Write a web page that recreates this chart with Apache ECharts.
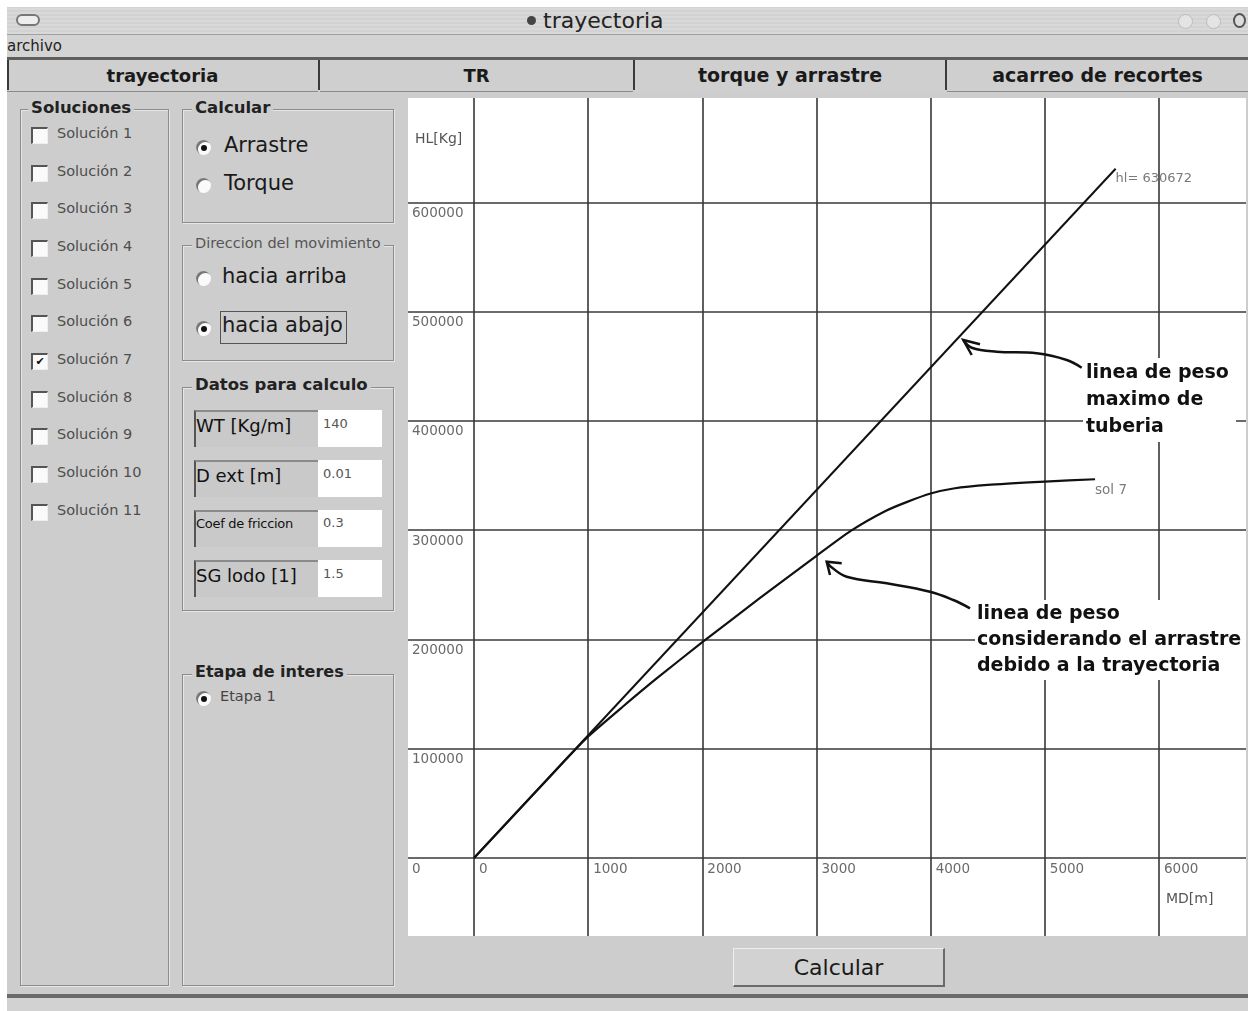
<!DOCTYPE html>
<html><head><meta charset="utf-8">
<script src="https://cdn.jsdelivr.net/npm/echarts@6/dist/echarts.min.js"></script>
<style>
html,body{margin:0;padding:0;}
body{width:1248px;height:1011px;position:relative;background:#fff;font-family:"DejaVu Sans",Arial,sans-serif;overflow:hidden;color:#222;}
.a{position:absolute;white-space:nowrap;}
#titlebar{left:7px;top:7px;width:1241px;height:27px;background:repeating-linear-gradient(0deg,#d9d9d9 0px,#d9d9d9 2px,#d2d2d2 2px,#d2d2d2 4px);border-bottom:1px solid #a0a0a0;}
#menubar{left:7px;top:35px;width:1241px;height:22px;background:#d3d3d3;}
#menuline{left:7px;top:57px;width:1241px;height:3px;background:#5e5e5e;}
#tabs{left:7px;top:60px;width:1241px;height:33px;background:#cfcfcf;}
.tab{position:absolute;top:60px;height:31px;border-bottom:1px solid #8a8a8a;font-weight:bold;text-align:center;line-height:31px;color:#1a1a1a;}
.tabsep{position:absolute;top:60px;width:2px;height:30px;background:#3a3a3a;}
#main{left:7px;top:93px;width:1241px;height:901px;background:#cdcdcd;}
#bottomline{left:7px;top:994px;width:1241px;height:4px;background:#6b6b6b;}
#status{left:7px;top:998px;width:1241px;height:13px;background:#d2d2d2;}
.group{position:absolute;border:1px solid #8c8c8c;box-shadow:inset 1px 1px 0 #e6e6e6,1px 1px 0 #e6e6e6;}
.gt{position:absolute;background:#cdcdcd;padding:0 3px;white-space:nowrap;color:#222;}
.cb{position:absolute;width:17px;height:17px;box-sizing:border-box;background:#fafafa;border-top:2px solid #555;border-left:2px solid #555;border-right:1px solid #eee;border-bottom:1px solid #eee;font-size:11px;line-height:13px;text-align:center;color:#111;}
.cbl{position:absolute;font-size:14.5px;color:#4e4e4e;white-space:nowrap;}
.rb{position:absolute;width:15px;height:15px;border-radius:50%;background:#fafafa;box-shadow:inset 2px 2px 0 #777;}
.rb.on::after{content:'';position:absolute;left:5px;top:5px;width:6px;height:6px;border-radius:50%;background:#111;}
.rl{position:absolute;font-size:21px;color:#1a1a1a;white-space:nowrap;}
.lf{position:absolute;left:194px;width:124px;height:37px;box-sizing:border-box;background:#c9c9c9;border-top:2px solid #8a8a8a;border-left:2px solid #555;color:#111;white-space:nowrap;}
.vf{position:absolute;left:318px;width:64px;height:37px;background:#fff;font-size:13px;color:#555;padding-left:5px;box-sizing:border-box;}
#btn{left:733px;top:948px;width:212px;height:39px;box-sizing:border-box;background:#d2d2d2;border-top:1px solid #eee;border-left:1px solid #eee;border-right:2px solid #6a6a6a;border-bottom:2px solid #6a6a6a;text-align:center;font-size:22px;line-height:37px;color:#1a1a1a;}
#chart{left:408px;top:98px;width:838px;height:838px;background:#fff;}
</style></head>
<body>
<div class="a" id="titlebar"></div>
<div class="a" style="left:16px;top:14px;width:24px;height:12px;border:2px solid #777;border-radius:8px;background:#eee;box-sizing:border-box;"></div>
<div class="a" style="left:527px;top:16px;width:9px;height:9px;border-radius:50%;background:#444;"></div>
<div class="a" style="left:543px;top:7px;font-size:22px;line-height:28px;color:#222;">trayectoria</div>
<div class="a" style="left:1178px;top:14px;width:13px;height:13px;border-radius:50%;background:#e4e4e4;border:1px solid #bbb;"></div>
<div class="a" style="left:1206px;top:14px;width:13px;height:13px;border-radius:50%;background:#e4e4e4;border:1px solid #bbb;"></div>
<div class="a" style="left:1233px;top:13px;width:13px;height:15px;border-radius:50%;background:#ddd;border:2px solid #555;box-sizing:border-box;"></div>
<div class="a" id="menubar"></div>
<div class="a" style="left:7px;top:37px;font-size:15px;color:#222;">archivo</div>
<div class="a" id="menuline"></div>
<div class="a" id="tabs"></div>
<div class="tab" style="left:7px;width:311px;font-size:18px;">trayectoria</div>
<div class="tab" style="left:320px;width:313px;font-size:18px;">TR</div>
<div class="tab" style="left:635px;width:310px;font-size:19px;border-bottom:none;">torque y arrastre</div>
<div class="tab" style="left:947px;width:301px;font-size:19px;">acarreo de recortes</div>
<div class="tabsep" style="left:7px;"></div>
<div class="tabsep" style="left:318px;"></div>
<div class="tabsep" style="left:633px;"></div>
<div class="tabsep" style="left:945px;"></div>
<div class="a" id="main"></div>

<!-- Soluciones -->
<div class="group" style="left:20px;top:109px;width:147px;height:875px;"></div>
<div class="gt" style="left:28px;top:98px;font-size:16.5px;font-weight:bold;">Soluciones</div>
<div id="sols"></div>

<!-- Calcular -->
<div class="group" style="left:182px;top:109px;width:210px;height:112px;"></div>
<div class="gt" style="left:192px;top:98px;font-size:16.5px;font-weight:bold;">Calcular</div>
<div class="rb on" style="left:196px;top:140px;"></div>
<div class="rl" style="left:224px;top:133px;">Arrastre</div>
<div class="rb" style="left:196px;top:178px;"></div>
<div class="rl" style="left:224px;top:171px;">Torque</div>

<!-- Direccion -->
<div class="group" style="left:182px;top:245px;width:210px;height:114px;"></div>
<div class="gt" style="left:192px;top:235px;font-size:14.5px;color:#555;">Direccion del movimiento</div>
<div class="rb" style="left:196px;top:271px;"></div>
<div class="rl" style="left:222px;top:264px;">hacia arriba</div>
<div class="rb on" style="left:196px;top:321px;"></div>
<div class="a" style="left:220px;top:311px;width:127px;height:33px;border:1px solid #555;box-sizing:border-box;"></div>
<div class="rl" style="left:222px;top:313px;">hacia abajo</div>

<!-- Datos -->
<div class="group" style="left:182px;top:387px;width:210px;height:222px;"></div>
<div class="gt" style="left:192px;top:375px;font-size:16.5px;font-weight:bold;">Datos para calculo</div>
<div class="lf" style="top:410px;font-size:18px;line-height:28px;">WT [Kg/m]</div>
<div class="vf" style="top:410px;line-height:28px;">140</div>
<div class="lf" style="top:460px;font-size:18px;line-height:28px;">D ext [m]</div>
<div class="vf" style="top:460px;line-height:28px;">0.01</div>
<div class="lf" style="top:510px;font-size:13px;line-height:24px;letter-spacing:-0.3px;">Coef de friccion</div>
<div class="vf" style="top:510px;line-height:26px;">0.3</div>
<div class="lf" style="top:560px;font-size:18px;line-height:28px;">SG lodo [1]</div>
<div class="vf" style="top:560px;line-height:28px;">1.5</div>

<!-- Etapa -->
<div class="group" style="left:182px;top:674px;width:210px;height:310px;"></div>
<div class="gt" style="left:192px;top:662px;font-size:16px;font-weight:bold;">Etapa de interes</div>
<div class="rb on" style="left:196px;top:691px;"></div>
<div class="a" style="left:220px;top:688px;font-size:14.5px;color:#444;">Etapa 1</div>

<div class="a" id="chart"></div>
<div class="a" id="btn">Calcular</div>
<div class="a" id="bottomline"></div>
<div class="a" id="status"></div>

<script>
// ---- data ----
const solucionLabels = ['Solución 1','Solución 2','Solución 3','Solución 4','Solución 5','Solución 6','Solución 7','Solución 8','Solución 9','Solución 10','Solución 11'];
const solucionChecked = [false,false,false,false,false,false,true,false,false,false,false];
const xTickValues = [0, 1000, 2000, 3000, 4000, 5000, 6000];
const yTickValues = [0, 100000, 200000, 300000, 400000, 500000, 600000];
const mdPesoMax = [0, 5620];
const hlPesoMax = [0, 630672];
const mdSol7 = [0, 500, 800, 1000, 1300, 1600, 2000, 2500, 3000, 3300, 3600, 3800, 4000, 4200, 4500, 5000, 5440];
const hlSol7 = [0, 56000, 89600, 111200, 138200, 164300, 197500, 237500, 276500, 299300, 317300, 326100, 333500, 338100, 341400, 344400, 346600];
const labelPesoMax = 'hl= 630672';
const labelSol7 = 'sol 7';
const xName = 'MD[m]';
const yName = 'HL[Kg]';

// ---- checkboxes ----
const sols = document.getElementById('sols');
solucionLabels.forEach((t, i) => {
  const y = 135 + i * 37.67;
  const cb = document.createElement('div');
  cb.className = 'cb';
  cb.style.left = '31px'; cb.style.top = (y - 8) + 'px';
  if (solucionChecked[i]) cb.textContent = '✔';
  sols.appendChild(cb);
  const l = document.createElement('div');
  l.className = 'cbl';
  l.style.left = '57px'; l.style.top = (y - 10) + 'px';
  l.textContent = t;
  sols.appendChild(l);
});

// ---- chart ----
const chart = echarts.init(document.getElementById('chart'));
const zip = (a, b) => a.map((v, i) => [v, b[i]]);
const gridColor = '#383838';
const lblStyle = { color: '#6a6a6a', fontFamily: 'DejaVu Sans', fontSize: 13.5, formatter: v => String(v) };
const OX = 408, OY = 98; // page offset of chart container (for annotations)
const P = (x, y) => [x - OX, y - OY];

chart.setOption({
  animation: false,
  backgroundColor: '#fff',
  grid: { left: 0, right: 0, top: 0, bottom: 0, containLabel: false, outerBoundsMode: 'none' },
  xAxis: {
    type: 'value', min: -578, max: 6762, position: 'bottom',
    axisLine: { show: false, onZero: false },
    axisTick: { show: false, customValues: xTickValues },
    axisLabel: Object.assign({ customValues: xTickValues, inside: true, align: 'left', verticalAlign: 'top', margin: 74, padding: [0, 0, 0, 5] }, lblStyle),
    splitLine: { show: true, lineStyle: { color: gridColor, width: 1.6 } }
  },
  yAxis: {
    type: 'value', min: -71375, max: 695460, position: 'left',
    axisLine: { show: false, onZero: false },
    axisTick: { show: false, customValues: yTickValues },
    axisLabel: Object.assign({ customValues: yTickValues, inside: true, align: 'left', verticalAlign: 'top', margin: 4, padding: [4, 0, 0, 0] }, lblStyle),
    splitLine: { show: true, lineStyle: { color: gridColor, width: 1.6 } }
  },
  series: [
    {
      type: 'line', data: zip(mdPesoMax, hlPesoMax), symbol: 'none',
      lineStyle: { color: '#111', width: 2 },
      endLabel: { show: true, formatter: labelPesoMax, distance: 0, offset: [0, 10], color: '#7a7a7a', fontFamily: 'DejaVu Sans', fontSize: 13 }
    },
    {
      type: 'line', data: zip(mdSol7, hlSol7), symbol: 'none', smooth: 0.2,
      lineStyle: { color: '#111', width: 2.2 },
      endLabel: { show: true, formatter: labelSol7, distance: 0, offset: [0, 11], color: '#7a7a7a', fontFamily: 'DejaVu Sans', fontSize: 13.5 }
    }
  ],
  graphic: [
    { type: 'text', z: 10, x: P(415, 0)[0], y: P(0, 132)[1], style: { text: yName, fill: '#555', font: '14px "DejaVu Sans"' } },
    { type: 'text', z: 10, x: P(1166, 0)[0], y: P(0, 892)[1], style: { text: xName, fill: '#555', font: '14px "DejaVu Sans"' } },
    { type: 'rect', z: 10, shape: { x: P(1083, 0)[0], y: P(0, 358)[1], width: 153, height: 84 }, style: { fill: '#fff' } },
    { type: 'text', z: 11, x: P(1086, 0)[0], y: P(0, 359.5)[1], style: { text: 'linea de peso\nmaximo de\ntuberia', fill: '#111', font: 'bold 19px "DejaVu Sans"', lineHeight: 27 } },
    { type: 'rect', z: 10, shape: { x: P(975, 0)[0], y: P(0, 600)[1], width: 271, height: 80 }, style: { fill: '#fff' } },
    { type: 'text', z: 11, x: P(977, 0)[0], y: P(0, 601)[1], style: { text: 'linea de peso\nconsiderando el arrastre\ndebido a la trayectoria', fill: '#111', font: 'bold 19px "DejaVu Sans"', lineHeight: 26 } },
    { type: 'polyline', z: 11, shape: { points: [P(1081.7, 367.7), P(1066.7, 360), P(1036.7, 353.3), P(996.7, 351.7), P(971.7, 347.7), P(963.3, 340)], smooth: 0.4 }, style: { stroke: '#111', lineWidth: 2.5, fill: null } },
    { type: 'polyline', z: 11, shape: { points: [P(971.7, 355), P(963.3, 340), P(980, 344.3)] }, style: { stroke: '#111', lineWidth: 2.5, fill: null } },
    { type: 'polyline', z: 11, shape: { points: [P(970, 608.3), P(953.3, 600), P(930, 591.7), P(886.7, 583.3), P(846.7, 576.7), P(830, 566), P(826.7, 561.7)], smooth: 0.4 }, style: { stroke: '#111', lineWidth: 2.5, fill: null } },
    { type: 'polyline', z: 11, shape: { points: [P(830, 575), P(826.7, 561.7), P(841.7, 563.3)] }, style: { stroke: '#111', lineWidth: 2.5, fill: null } }
  ]
});
</script>
</body></html>
